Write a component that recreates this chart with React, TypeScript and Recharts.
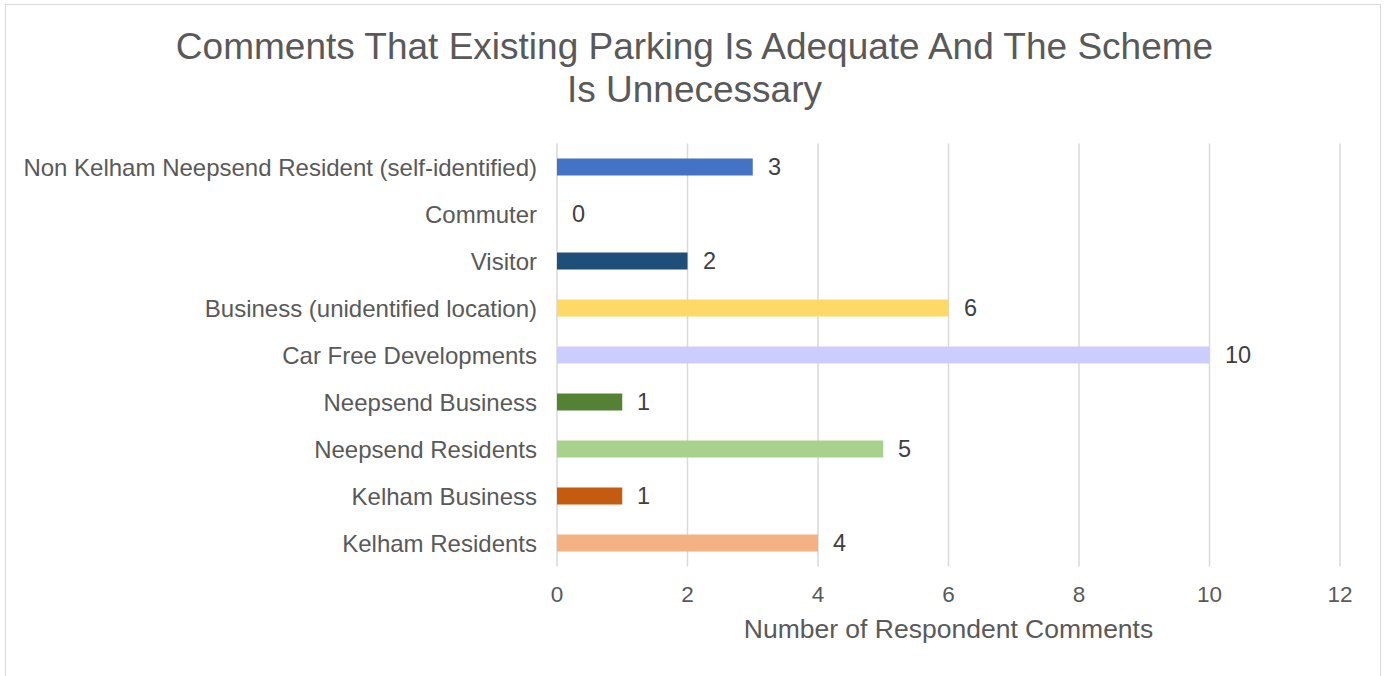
import { BarChart, Bar, XAxis, YAxis, CartesianGrid, Cell, LabelList } from 'recharts';

const categories = [
  'Non Kelham Neepsend Resident (self-identified)',
  'Commuter',
  'Visitor',
  'Business (unidentified location)',
  'Car Free Developments',
  'Neepsend Business',
  'Neepsend Residents',
  'Kelham Business',
  'Kelham Residents',
];

const comments = [3, 0, 2, 6, 10, 1, 5, 1, 4];

const barColors = [
  '#4472C4',
  '#A5A5A5',
  '#1F4E79',
  '#FFD966',
  '#CCCCFF',
  '#548235',
  '#A9D18E',
  '#C55A11',
  '#F4B183',
];

const xTicks = [0, 2, 4, 6, 8, 10, 12];

const data = categories.map((name, i) => ({ name, value: comments[i] }));

const FONT = '"Liberation Sans", Arial, sans-serif';

// value label drawn to the right of each bar (also for the zero bar)
const renderValue = (props: any) => {
  const { x, y, width, height, value } = props;
  return (
    <text
      x={Number(x) + Math.round(Number(width || 0)) + 15}
      y={Number(y) + Number(height) / 2}
      dominantBaseline="central"
      fill="#404040"
      fontSize={23.5}
      fontFamily={FONT}
    >
      {value}
    </text>
  );
};

export default function App() {
  return (
    <div style={{ position: 'absolute', left: 0, top: 0, width: 1389, height: 676, background: '#fff', fontFamily: FONT }}>
      <div
        style={{
          position: 'absolute',
          left: 5,
          top: 4,
          width: 1376,
          height: 700,
          border: '1.5px solid #D9D9D9',
          boxSizing: 'border-box',
        }}
      />
      <div
        style={{
          position: 'absolute',
          left: 0,
          top: 25,
          width: 1389,
          textAlign: 'center',
          fontSize: 37,
          lineHeight: '43px',
          color: '#595959',
        }}
      >
        Comments That Existing Parking Is Adequate And The Scheme
        <br />
        Is Unnecessary
      </div>
      <BarChart
        width={1389}
        height={676}
        data={data}
        layout="vertical"
        margin={{ top: 143.5, right: 49, bottom: 54.5, left: 0 }}
        style={{ position: 'absolute', left: 0, top: 0 }}
      >
        <CartesianGrid horizontal={false} stroke="#D9D9D9" strokeWidth={1.5} />
        <XAxis
          type="number"
          domain={[0, 12]}
          ticks={xTicks}
          axisLine={false}
          tickLine={false}
          tickMargin={14}
          height={55}
          tick={{ fill: '#595959', fontSize: 22.5, fontFamily: FONT }}
          label={{
            value: 'Number of Respondent Comments',
            position: 'bottom',
            offset: -2,
            fill: '#595959',
            fontSize: 26.5,
            fontFamily: FONT,
          }}
        />
        <YAxis
          type="category"
          dataKey="name"
          width={557}
          axisLine={false}
          tickLine={false}
          tickMargin={14}
          interval={0}
          tick={{ fill: '#595959', fontSize: 24, fontFamily: FONT }}
        />
        <Bar dataKey="value" barSize={17} minPointSize={0.01} isAnimationActive={false}>
          {data.map((d, i) => (
            <Cell key={d.name} fill={barColors[i]} />
          ))}
          <LabelList dataKey="value" content={renderValue} />
        </Bar>
      </BarChart>
    </div>
  );
}
